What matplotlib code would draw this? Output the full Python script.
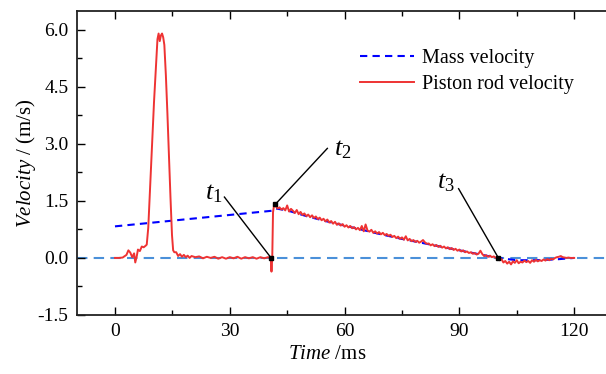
import matplotlib
matplotlib.use("Agg")
import matplotlib.pyplot as plt
from matplotlib.ticker import MultipleLocator, FormatStrFormatter

plt.rcParams["font.family"] = ["Liberation Serif", "DejaVu Serif"]
plt.rcParams["mathtext.fontset"] = "custom"
plt.rcParams["mathtext.rm"] = "Liberation Serif"
plt.rcParams["mathtext.it"] = "Liberation Serif:italic"
plt.rcParams["axes.unicode_minus"] = False

# piston rod velocity (ms, m/s)
piston_t = [0, 1, 2, 3, 3.5, 4, 4.5, 5, 5.3, 5.7, 6, 6.5, 7, 7.5, 8,
            8.3, 8.7, 9.2, 9.7, 10.2, 10.7, 11.1, 11.4, 11.7, 12.0, 12.3, 12.6, 12.9,
            13.3, 13.7, 14.1, 14.5, 14.9, 15.2, 15.5,
            16.0, 16.5, 17, 17.5, 18, 18.5, 19, 19.5, 20, 21, 22, 23, 24, 25, 26, 27,
            28, 29, 30, 31, 32, 33, 34, 35, 36, 37, 38, 39, 40, 40.5, 40.7, 40.9,
            41.1, 41.3, 41.6,
            42.0, 42.5, 43.0, 43.5, 44.0, 44.5, 45.0, 45.5, 46.0, 46.5,
            47.0, 47.5, 48.0, 48.5, 49.0, 49.5, 50.0, 50.5, 51.0, 51.5,
            52.0, 52.5, 53.0, 53.5, 54.0, 54.5, 55.0, 55.5, 56.0, 56.5,
            57.0, 57.5, 58.0, 58.5, 59.0, 59.5, 60.0, 60.5, 61.0, 61.5,
            62.0, 62.5, 63.0, 63.5, 64.0, 64.5, 65.0, 65.5, 66.0, 66.5,
            67.0, 67.5, 68.0, 68.5, 69.0, 69.5, 70.0, 70.5, 71.0, 71.5,
            72.0, 72.5, 73.0, 73.5, 74.0, 74.5, 75.0, 75.5, 76.0, 76.5,
            77.0, 77.5, 78.0, 78.5, 79.0, 79.5, 80.0, 80.5, 81.0, 81.5,
            82.0, 82.5, 83.0, 83.5, 84.0, 84.5, 85.0, 85.5, 86.0, 86.5,
            87.0, 87.5, 88.0, 88.5, 89.0, 89.5, 90.0, 90.5, 91.0, 91.5,
            92.0, 92.5, 93.0, 93.5, 94.0, 94.5, 95.0, 95.5, 96.0, 96.5,
            97.0, 97.5, 98.0, 98.5, 99.0, 99.5, 100.0, 100.5, 101.0, 101.5,
            102.0, 102.5, 103.0, 103.5, 104.0, 104.5, 105.0, 105.5, 106.0, 106.5,
            107.0, 107.5, 108.0, 108.5, 109.0, 109.5, 110.0, 110.5, 111.0, 111.5,
            112.0, 112.5, 113.0, 113.5, 114.0, 114.5, 115.0, 115.5, 116.0, 116.5,
            117.0, 117.5, 118.0, 118.5, 119.0, 119.5, 120.0]
piston_v = [0, 0, 0.01, 0.08, 0.2, 0.14, 0.02, 0.12, -0.12, 0.05, 0.22, 0.18, 0.3, 0.28, 0.32,
            0.35, 0.8, 1.9, 3.0, 4.1, 5.0, 5.75, 5.9, 5.7, 5.85, 5.9, 5.8, 5.6,
            4.8, 3.8, 2.7, 1.6, 0.6, 0.2, 0.15,
            0.15, 0.05, 0.1, 0.03, 0.08, 0.02, 0.06, 0.0, 0.05, 0.02, 0.04, -0.01, 0.03, 0.0, 0.03, -0.02,
            0.02, -0.02, 0.02, -0.01, 0.03, -0.02, 0.02, -0.01, 0.02, -0.02, 0.02, -0.01, 0.02, 0.0, 0.0, -0.36,
            0.0, 1.2, 1.41,
            1.36, 1.30, 1.33, 1.27, 1.31, 1.25, 1.38, 1.22, 1.29, 1.24,
            1.18, 1.26, 1.15, 1.21, 1.13, 1.17, 1.10, 1.14, 1.07, 1.12,
            1.05, 1.09, 1.02, 1.06, 0.99, 1.03, 0.96, 1.01, 0.93, 0.97,
            0.90, 0.95, 0.87, 0.91, 0.85, 0.89, 0.82, 0.86, 0.80, 0.84,
            0.78, 0.81, 0.75, 0.79, 0.73, 0.84, 0.70, 0.88, 0.72, 0.69,
            0.74, 0.66, 0.70, 0.64, 0.68, 0.62, 0.66, 0.60, 0.63, 0.58,
            0.61, 0.55, 0.58, 0.52, 0.56, 0.50, 0.54, 0.48, 0.57, 0.46,
            0.50, 0.44, 0.47, 0.42, 0.45, 0.40, 0.43, 0.47, 0.41, 0.37,
            0.38, 0.33, 0.36, 0.31, 0.34, 0.29, 0.32, 0.27, 0.30, 0.25,
            0.28, 0.23, 0.26, 0.21, 0.24, 0.19, 0.22, 0.17, 0.20, 0.15,
            0.17, 0.13, 0.15, 0.11, 0.13, 0.09, 0.11, 0.19, 0.10, 0.05,
            0.07, 0.03, 0.06, 0.02, 0.04, 0.0, 0.02, -0.06, -0.03, -0.12,
            -0.08, -0.15, -0.10, -0.17, -0.09, -0.13, -0.06, -0.14, -0.10, -0.12,
            -0.07, -0.11, -0.08, -0.13, -0.06, -0.10, -0.05, -0.09, -0.06, -0.08,
            -0.04, -0.07, -0.03, -0.06, -0.02, -0.04, 0.0, 0.02, 0.03, 0.05,
            0.02, 0.01, 0.0, 0.01, 0.0, 0.0, 0.0]

# mass velocity
mass_t = [0, 41, 42, 45, 50, 55, 60, 65, 70, 75, 80, 85, 90, 95, 100, 105, 110, 115, 120]
mass_v = [0.83, 1.24, 1.30, 1.25, 1.10, 0.97, 0.85, 0.73, 0.61, 0.50, 0.40, 0.30, 0.20,
          0.10, 0.0, -0.06, -0.06, -0.04, 0.0]

# marked instants
event_names = ["$t_1$", "$t_2$", "$t_3$"]
event_t = [40.8, 41.9, 100.2]
event_v = [0.0, 1.41, 0.0]
label_pos = [(25.9, 1.68), (59.6, 2.84), (86.6, 1.99)]
line_start = [(28.6, 1.60), (55.5, 2.88), (89.8, 1.82)]

fig = plt.figure(figsize=(6.06, 3.74), dpi=100)
ax = fig.add_axes([0.1266, 0.1578, 0.884, 0.8136])

ax.axhline(0, color="#4a90d9", lw=1.5, dashes=(5, 3), zorder=1)
ax.plot(mass_t, mass_v, color="#0000ff", lw=1.5, dashes=(3.5, 2.5), label="Mass velocity", zorder=2)
ax.plot(piston_t, piston_v, color="#ee3333", lw=1.4, label="Piston rod velocity", zorder=3)

for name, x, y, lp, ls in zip(event_names, event_t, event_v, label_pos, line_start):
    ax.plot([ls[0], x], [ls[1], y], color="black", lw=1.0, zorder=4)
    ax.plot(x, y, "s", color="black", ms=3.5, zorder=5)
    ax.text(lp[0], lp[1], name, fontsize=19, ha="center", va="center")

ax.set_xlim(-10, 130)
ax.set_ylim(-1.5, 6.5)
ax.xaxis.set_major_locator(MultipleLocator(30))
ax.xaxis.set_minor_locator(MultipleLocator(15))
ax.yaxis.set_major_locator(MultipleLocator(1.5))
ax.yaxis.set_minor_locator(MultipleLocator(0.75))
ax.yaxis.set_major_formatter(FormatStrFormatter("%.1f"))
ax.tick_params(which="both", direction="in", top=True, right=False, labelsize=14, pad=6, width=1.0)
ax.tick_params(which="major", length=6)
ax.tick_params(which="minor", length=3.5)
for s in ax.spines.values():
    s.set_linewidth(1.3)
    s.set_color("#222222")
ax.spines["right"].set_visible(False)

ax.set_xlabel(r"$\mathit{Time}$ /ms", fontsize=15)
ax.set_ylabel(r"$\mathit{Velocity}$ / (m/s)", fontsize=15)
ax.xaxis.set_label_coords(0.467, -0.10)
ax.yaxis.set_label_coords(-0.072, 0.5)

ax.legend(loc="upper left", bbox_to_anchor=(0.529, 0.875), frameon=False, fontsize=14.5,
          handlelength=2.7, handletextpad=0.35, borderpad=0, borderaxespad=0, labelspacing=0.35)

plt.savefig("out.png", dpi=100)
